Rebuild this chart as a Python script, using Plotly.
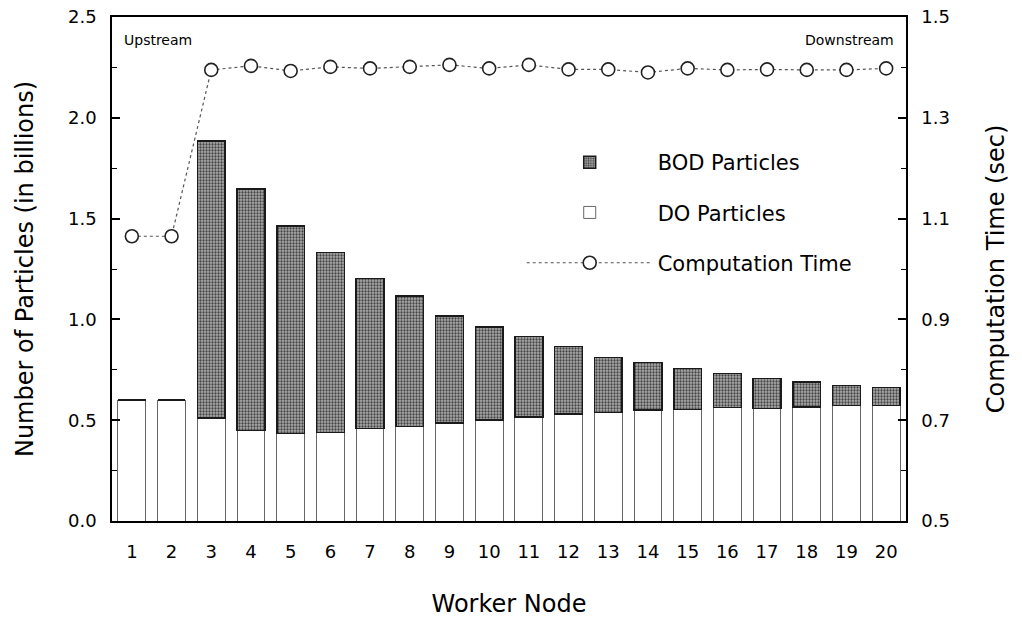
import plotly.graph_objects as go

# Worker nodes along the river, upstream -> downstream
nodes = list(range(1, 21))

# Particle counts (billions)
do_particles = [0.60, 0.60, 0.51, 0.45, 0.435, 0.44, 0.46, 0.47, 0.485, 0.50,
                0.517, 0.53, 0.537, 0.55, 0.554, 0.562, 0.558, 0.565, 0.572, 0.573]
total_particles = [0.60, 0.60, 1.885, 1.647, 1.463, 1.331, 1.204, 1.116, 1.017, 0.962,
                   0.914, 0.865, 0.810, 0.787, 0.756, 0.731, 0.706, 0.690, 0.673, 0.661]
bod_particles = [round(t - d, 3) for t, d in zip(total_particles, do_particles)]

# Computation time per node (sec)
comp_time = [1.065, 1.065, 1.395, 1.403, 1.393, 1.401, 1.398, 1.401, 1.405, 1.398,
             1.405, 1.396, 1.396, 1.390, 1.398, 1.395, 1.396, 1.395, 1.395, 1.398]

FONT = "DejaVu Sans, Verdana, sans-serif"

fig = go.Figure()

fig.add_trace(go.Bar(
    x=nodes, y=do_particles, name="DO Particles", legendrank=2, legendgroup="do",
    width=0.7,
    marker=dict(color="white", line=dict(color="#666666", width=1)),
))
fig.add_trace(go.Bar(
    x=nodes, y=bod_particles, name="BOD Particles", legendrank=1, legendgroup="bod",
    width=0.7,
    marker=dict(
        color="#909090",
        line=dict(color="#1a1a1a", width=1.5),
        pattern=dict(shape=".", fgcolor="#444444", bgcolor="#acacac",
                     size=3, solidity=0.45, fillmode="replace"),
    ),
))
fig.add_trace(go.Scatter(
    x=nodes, y=comp_time, name="Computation Time", legendrank=3, legendgroup="time",
    yaxis="y2", mode="lines+markers",
    line=dict(color="#555555", width=1.2, dash="dot"),
    marker=dict(symbol="circle", size=13, color="white",
                line=dict(color="#222222", width=1.6)),
))

fig.update_layout(
    width=1022, height=619,
    margin=dict(l=112, r=116, t=17, b=98, autoexpand=False),
    paper_bgcolor="white", plot_bgcolor="white",
    barmode="stack",
    font=dict(family=FONT, size=18, color="black"),
    showlegend=True,
    legend=dict(
        x=0.516, y=0.752, xanchor="left", yanchor="top",
        traceorder="grouped", bgcolor="rgba(0,0,0,0)",
        font=dict(family=FONT, size=21),
        tracegroupgap=20, itemwidth=126,
    ),
    xaxis=dict(
        range=[0.5, 20.5], tickmode="array", tickvals=nodes,
        ticks="", showgrid=False, zeroline=False,
        showline=True, mirror=True, linecolor="black", linewidth=1.5,
        ticklabelstandoff=14, automargin=False,
        tickfont=dict(size=18),
        title=dict(text="Worker Node", font=dict(size=24), standoff=34),
    ),
    yaxis=dict(
        range=[0, 2.5], dtick=0.5, tickformat=".1f",
        ticks="inside", ticklen=8, tickwidth=1.5, tickcolor="black",
        minor=dict(dtick=0.25, ticks="inside", ticklen=5, tickwidth=1.2, tickcolor="black"),
        showgrid=False, zeroline=False,
        showline=True, linecolor="black", linewidth=1.5,
        ticklabelstandoff=10, automargin=False,
        tickfont=dict(size=18),
        title=dict(text="Number of Particles (in billions)", font=dict(size=24), standoff=28),
    ),
    yaxis2=dict(
        range=[0.5, 1.5], tickvals=[0.5, 0.7, 0.9, 1.1, 1.3, 1.5], tickformat=".1f",
        overlaying="y", side="right",
        ticks="inside", ticklen=8, tickwidth=1.5, tickcolor="black",
        minor=dict(dtick=0.1, ticks="inside", ticklen=5, tickwidth=1.2, tickcolor="black"),
        showgrid=False, zeroline=False,
        showline=True, linecolor="black", linewidth=1.5,
        ticklabelstandoff=10, automargin=False,
        tickfont=dict(size=18),
        title=dict(text="Computation Time (sec)", font=dict(size=24), standoff=38),
    ),
    annotations=[
        dict(text="Upstream", x=0.012, y=0.975, xref="paper", yref="paper",
             xanchor="left", yanchor="top", showarrow=False, font=dict(size=14)),
        dict(text="Downstream", x=0.988, y=0.975, xref="paper", yref="paper",
             xanchor="right", yanchor="top", showarrow=False, font=dict(size=14)),
    ],
)

fig.write_html("out.html")
